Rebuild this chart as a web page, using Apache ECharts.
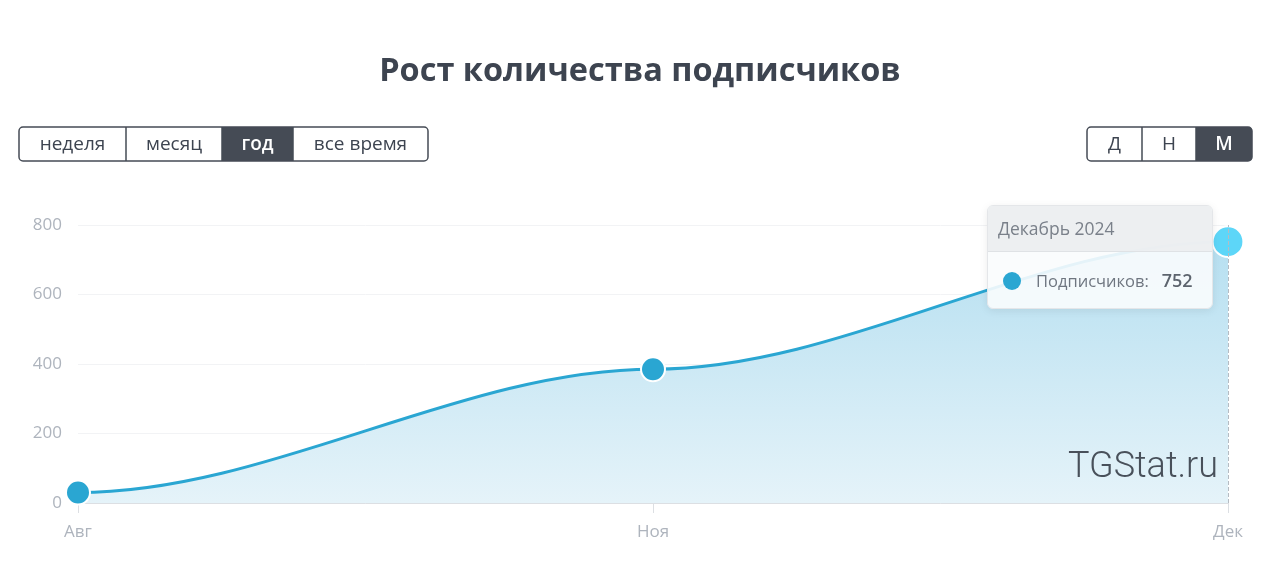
<!DOCTYPE html>
<html><head><meta charset="utf-8">
<script src="https://cdn.jsdelivr.net/npm/echarts@6/dist/echarts.min.js"></script>
<style>html,body{margin:0;padding:0;background:#fff}#c{width:1280px;height:562px}</style>
</head><body><div id="c"></div>
<script>
const titleText = 'Рост количества подписчиков';
const categories = ['Авг', 'Ноя', 'Дек'];
const subscribers = [30, 385, 752];
const seriesName = 'Подписчиков';
const tooltipTitle = 'Декабрь 2024';
const periodButtons = ['неделя', 'месяц', 'год', 'все время'];
const periodActive = 2;
const scaleButtons = ['Д', 'Н', 'М'];
const scaleActive = 2;
const watermark = 'TGStat.ru';

const FONT = '"Open Sans", "Noto Sans", sans-serif';
const DARK = '#454b55';
const LINE = '#2aa6d2';

function buttonGroup(labels, active, edges, y, h) {
  const els = [];
  const x0 = edges[0], x1 = edges[edges.length - 1];
  els.push({type:'rect', shape:{x:edges[active], y:y, width:edges[active+1]-edges[active], height:h,
    r: active===labels.length-1 ? [0,4,4,0] : (active===0?[4,0,0,4]:0)}, style:{fill:DARK}});
  els.push({type:'rect', shape:{x:x0, y:y, width:x1-x0, height:h, r:4}, style:{fill:'none', stroke:DARK, lineWidth:1.5}});
  for (let i = 1; i < edges.length - 1; i++) {
    els.push({type:'line', shape:{x1:edges[i], y1:y, x2:edges[i], y2:y+h}, style:{stroke:DARK, lineWidth:1.5}});
  }
  labels.forEach((t, i) => {
    els.push({type:'text', x:(edges[i]+edges[i+1])/2, y:y+h/2+1, style:{text:t, fill: i===active?'#fff':'#3d4450',
      font:(i===active?'600 ':'400 ')+'19px '+FONT, textAlign:'center', textVerticalAlign:'middle'}});
  });
  return els;
}

const chart = echarts.init(document.getElementById('c'));
const last = subscribers.length - 1;

function renderSegment(params, api) {
  const i = api.value(0);
  if (i === 0) return null;
  const p0 = api.coord([i - 1, subscribers[i - 1]]);
  const p1 = api.coord([i, api.value(1)]);
  const base = api.coord([i, 0])[1];
  const top = api.coord([i, 800])[1];
  const dx = (p1[0] - p0[0]) / 3;
  const curve = 'M' + p0[0] + ',' + p0[1] + ' C' + (p0[0] + dx) + ',' + p0[1] + ' ' + (p1[0] - dx) + ',' + p1[1] + ' ' + p1[0] + ',' + p1[1];
  const area = curve + ' L' + p1[0] + ',' + base + ' L' + p0[0] + ',' + base + ' Z';
  return {type:'group', children:[
    {type:'path', shape:{pathData: area}, style:{fill: new echarts.graphic.LinearGradient(0, top, 0, base,
      [{offset:0, color:'#b3def0'}, {offset:1, color:'#e5f3f9'}], true)}, z2: 1},
    {type:'path', shape:{pathData: curve}, style:{fill:'none', stroke:LINE, lineWidth:3}, z2: 2}
  ]};
}

chart.setOption({
  animation: false,
  title: {text: titleText, left: 'center', top: 50, textStyle:{fontFamily:FONT, fontWeight:'bold', fontSize:32.5, color:'#3d4450'}},
  grid: {left: 78, right: 52, top: 225, bottom: 59},
  xAxis: {type:'category', data: categories, boundaryGap:false,
    axisLine:{lineStyle:{color:'#dcdfe3'}},
    axisTick:{show:true, alignWithLabel:true, length:10, lineStyle:{color:'#dcdfe3'}},
    axisLabel:{color:'#aeb4bd', fontSize:17, fontFamily:FONT, margin:21},
    splitLine:{show:false}},
  yAxis: {type:'value', min:0, max:800, interval:200,
    axisLine:{show:false}, axisTick:{show:false},
    axisLabel:{color:'#aeb4bd', fontSize:17, fontFamily:FONT, margin:16},
    splitLine:{lineStyle:{color:'#f2f3f5'}}},
  tooltip: {trigger:'axis', alwaysShowContent:true, padding:0, borderWidth:1, borderColor:'#e4e6e9',
    backgroundColor:'rgba(250,252,253,0.9)', extraCssText:'border-radius:6px;box-shadow:0 2px 8px rgba(0,0,0,0.08);overflow:hidden;',
    position: function(){ return [987, 205]; },
    axisPointer:{type:'line', lineStyle:{color:'#b5bbc2', type:'dashed', width:1}},
    formatter: function(params){
      const p = params.filter(q => q.seriesType === 'line')[0];
      return '<div style="width:224px;font-family:\'Open Sans\',\'Noto Sans\',sans-serif">'
        + '<div style="background:rgba(236,238,240,0.92);height:45px;line-height:45px;padding-left:10px;border-bottom:1px solid #dfe2e5;font-size:17.5px;color:#7a808a">' + tooltipTitle + '</div>'
        + '<div style="height:56px;line-height:56px;padding-left:15px;font-size:16.5px;color:#6f7680">'
        + '<span style="display:inline-block;width:18px;height:18px;border-radius:9px;background:' + LINE + ';vertical-align:-3px;margin-right:15px"></span>'
        + p.seriesName + ':&nbsp;&nbsp;&nbsp;<b style="color:#5d646e;font-weight:600;font-size:18px">' + p.value + '</b></div></div>';
    }},
  series: [{
    type:'custom', name:'curve', renderItem: renderSegment, silent:true,
    data: subscribers.map((v, i) => [i, v]), encode:{x:0, y:1}, z: 2, tooltip:{show:false}
  }, {
    type:'line', name: seriesName,
    data: subscribers.map((v, i) => i === last ? {value:v, symbolSize:28, itemStyle:{color:'#5dd6f8'}} : v),
    symbol:'circle', symbolSize:24, showSymbol:true,
    lineStyle:{width:0, opacity:0},
    itemStyle:{color:LINE, borderColor:'#fff', borderWidth:2},
    emphasis:{disabled:true},
    z: 4
  }],
  graphic: [
    ...buttonGroup(periodButtons, periodActive, [19, 126, 222, 293, 428], 127, 34),
    ...buttonGroup(scaleButtons, scaleActive, [1087, 1142, 1196, 1252], 127, 34),
    {type:'text', right: 62, top: 450, z: 10, style:{text: watermark, fill:'#48505a', font:'300 36px Roboto, "Liberation Sans", sans-serif'}}
  ]
});
chart.dispatchAction({type:'showTip', seriesIndex:1, dataIndex:last});
</script></body></html>
